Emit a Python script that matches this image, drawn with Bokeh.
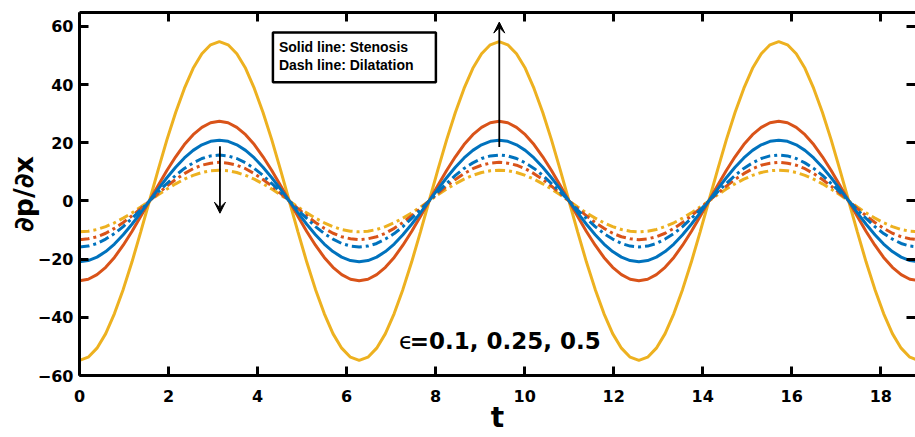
from bokeh.plotting import figure
from bokeh.models import Range1d, LinearAxis, FixedTicker, Arrow, VeeHead, Label, BoxAnnotation
from bokeh.embed import file_html
from bokeh.resources import INLINE

# ---- data ----
t = [0.0, 0.196, 0.393, 0.589, 0.785, 0.982, 1.178, 1.374, 1.571, 1.767, 1.963, 2.160, 2.356, 2.553, 2.749, 2.945,
     3.142, 3.338, 3.534, 3.731, 3.927, 4.123, 4.320, 4.516, 4.712, 4.909, 5.105, 5.301, 5.498, 5.694, 5.890, 6.087,
     6.283, 6.480, 6.676, 6.872, 7.069, 7.265, 7.461, 7.658, 7.854, 8.050, 8.247, 8.443, 8.639, 8.836, 9.032, 9.228,
     9.425, 9.621, 9.817, 10.014, 10.210, 10.407, 10.603, 10.799, 10.996, 11.192, 11.388, 11.585, 11.781, 11.977, 12.174, 12.370,
     12.566, 12.763, 12.959, 13.155, 13.352, 13.548, 13.744, 13.941, 14.137, 14.334, 14.530, 14.726, 14.923, 15.119, 15.315, 15.512,
     15.708, 15.904, 16.101, 16.297, 16.493, 16.690, 16.886, 17.082, 17.279, 17.475, 17.671, 17.868, 18.064, 18.261, 18.457, 18.653,
     18.850]

sten_yellow = [
    -54.8, -53.7, -50.6, -45.6, -38.7, -30.4, -21.0, -10.7, 0.0, 10.7, 21.0, 30.4, 38.7, 45.6, 50.6, 53.7,
    54.8, 53.7, 50.6, 45.6, 38.7, 30.4, 21.0, 10.7, 0.0, -10.7, -21.0, -30.4, -38.7, -45.6, -50.6, -53.7,
    -54.8, -53.7, -50.6, -45.6, -38.7, -30.4, -21.0, -10.7, 0.0, 10.7, 21.0, 30.4, 38.7, 45.6, 50.6, 53.7,
    54.8, 53.7, 50.6, 45.6, 38.7, 30.4, 21.0, 10.7, 0.0, -10.7, -21.0, -30.4, -38.7, -45.6, -50.6, -53.7,
    -54.8, -53.7, -50.6, -45.6, -38.7, -30.4, -21.0, -10.7, 0.0, 10.7, 21.0, 30.4, 38.7, 45.6, 50.6, 53.7,
    54.8, 53.7, 50.6, 45.6, 38.7, 30.4, 21.0, 10.7, 0.0, -10.7, -21.0, -30.4, -38.7, -45.6, -50.6, -53.7,
    -54.8]
sten_orange = [
    -27.4, -26.9, -25.3, -22.8, -19.4, -15.2, -10.5, -5.3, 0.0, 5.3, 10.5, 15.2, 19.4, 22.8, 25.3, 26.9,
    27.4, 26.9, 25.3, 22.8, 19.4, 15.2, 10.5, 5.3, 0.0, -5.3, -10.5, -15.2, -19.4, -22.8, -25.3, -26.9,
    -27.4, -26.9, -25.3, -22.8, -19.4, -15.2, -10.5, -5.3, 0.0, 5.3, 10.5, 15.2, 19.4, 22.8, 25.3, 26.9,
    27.4, 26.9, 25.3, 22.8, 19.4, 15.2, 10.5, 5.3, 0.0, -5.3, -10.5, -15.2, -19.4, -22.8, -25.3, -26.9,
    -27.4, -26.9, -25.3, -22.8, -19.4, -15.2, -10.5, -5.3, 0.0, 5.3, 10.5, 15.2, 19.4, 22.8, 25.3, 26.9,
    27.4, 26.9, 25.3, 22.8, 19.4, 15.2, 10.5, 5.3, 0.0, -5.3, -10.5, -15.2, -19.4, -22.8, -25.3, -26.9,
    -27.4]
sten_blue = [
    -20.9, -20.5, -19.3, -17.4, -14.8, -11.6, -8.0, -4.1, 0.0, 4.1, 8.0, 11.6, 14.8, 17.4, 19.3, 20.5,
    20.9, 20.5, 19.3, 17.4, 14.8, 11.6, 8.0, 4.1, 0.0, -4.1, -8.0, -11.6, -14.8, -17.4, -19.3, -20.5,
    -20.9, -20.5, -19.3, -17.4, -14.8, -11.6, -8.0, -4.1, 0.0, 4.1, 8.0, 11.6, 14.8, 17.4, 19.3, 20.5,
    20.9, 20.5, 19.3, 17.4, 14.8, 11.6, 8.0, 4.1, 0.0, -4.1, -8.0, -11.6, -14.8, -17.4, -19.3, -20.5,
    -20.9, -20.5, -19.3, -17.4, -14.8, -11.6, -8.0, -4.1, 0.0, 4.1, 8.0, 11.6, 14.8, 17.4, 19.3, 20.5,
    20.9, 20.5, 19.3, 17.4, 14.8, 11.6, 8.0, 4.1, 0.0, -4.1, -8.0, -11.6, -14.8, -17.4, -19.3, -20.5,
    -20.9]
dil_blue = [
    -15.8, -15.5, -14.6, -13.1, -11.2, -8.8, -6.0, -3.1, 0.0, 3.1, 6.0, 8.8, 11.2, 13.1, 14.6, 15.5,
    15.8, 15.5, 14.6, 13.1, 11.2, 8.8, 6.0, 3.1, 0.0, -3.1, -6.0, -8.8, -11.2, -13.1, -14.6, -15.5,
    -15.8, -15.5, -14.6, -13.1, -11.2, -8.8, -6.0, -3.1, 0.0, 3.1, 6.0, 8.8, 11.2, 13.1, 14.6, 15.5,
    15.8, 15.5, 14.6, 13.1, 11.2, 8.8, 6.0, 3.1, 0.0, -3.1, -6.0, -8.8, -11.2, -13.1, -14.6, -15.5,
    -15.8, -15.5, -14.6, -13.1, -11.2, -8.8, -6.0, -3.1, 0.0, 3.1, 6.0, 8.8, 11.2, 13.1, 14.6, 15.5,
    15.8, 15.5, 14.6, 13.1, 11.2, 8.8, 6.0, 3.1, 0.0, -3.1, -6.0, -8.8, -11.2, -13.1, -14.6, -15.5,
    -15.8]
dil_orange = [
    -13.3, -13.0, -12.3, -11.1, -9.4, -7.4, -5.1, -2.6, 0.0, 2.6, 5.1, 7.4, 9.4, 11.1, 12.3, 13.0,
    13.3, 13.0, 12.3, 11.1, 9.4, 7.4, 5.1, 2.6, 0.0, -2.6, -5.1, -7.4, -9.4, -11.1, -12.3, -13.0,
    -13.3, -13.0, -12.3, -11.1, -9.4, -7.4, -5.1, -2.6, 0.0, 2.6, 5.1, 7.4, 9.4, 11.1, 12.3, 13.0,
    13.3, 13.0, 12.3, 11.1, 9.4, 7.4, 5.1, 2.6, 0.0, -2.6, -5.1, -7.4, -9.4, -11.1, -12.3, -13.0,
    -13.3, -13.0, -12.3, -11.1, -9.4, -7.4, -5.1, -2.6, 0.0, 2.6, 5.1, 7.4, 9.4, 11.1, 12.3, 13.0,
    13.3, 13.0, 12.3, 11.1, 9.4, 7.4, 5.1, 2.6, 0.0, -2.6, -5.1, -7.4, -9.4, -11.1, -12.3, -13.0,
    -13.3]
dil_yellow = [
    -10.6, -10.4, -9.8, -8.8, -7.5, -5.9, -4.1, -2.1, 0.0, 2.1, 4.1, 5.9, 7.5, 8.8, 9.8, 10.4,
    10.6, 10.4, 9.8, 8.8, 7.5, 5.9, 4.1, 2.1, 0.0, -2.1, -4.1, -5.9, -7.5, -8.8, -9.8, -10.4,
    -10.6, -10.4, -9.8, -8.8, -7.5, -5.9, -4.1, -2.1, 0.0, 2.1, 4.1, 5.9, 7.5, 8.8, 9.8, 10.4,
    10.6, 10.4, 9.8, 8.8, 7.5, 5.9, 4.1, 2.1, 0.0, -2.1, -4.1, -5.9, -7.5, -8.8, -9.8, -10.4,
    -10.6, -10.4, -9.8, -8.8, -7.5, -5.9, -4.1, -2.1, 0.0, 2.1, 4.1, 5.9, 7.5, 8.8, 9.8, 10.4,
    10.6, 10.4, 9.8, 8.8, 7.5, 5.9, 4.1, 2.1, 0.0, -2.1, -4.1, -5.9, -7.5, -8.8, -9.8, -10.4,
    -10.6]

x_ticks = [0, 2, 4, 6, 8, 10, 12, 14, 16, 18]
y_ticks = [-60, -40, -20, 0, 20, 40, 60]

BLUE = "#0072BD"
ORANGE = "#D95319"
YELLOW = "#EDB120"

FONT = "DejaVu Sans"

p = figure(width=915, height=437, output_backend="svg", toolbar_location=None,
           x_range=Range1d(0, 18.78), y_range=Range1d(-60, 64.8),
           x_axis_location=None, y_axis_location=None,
           min_border_left=79, min_border_right=0, min_border_top=12, min_border_bottom=62)
p.outline_line_color = None
p.grid.visible = False
p.background_fill_color = "white"
p.border_fill_color = "white"


def style_axis(ax, ticks, show_labels):
    ax.axis_line_width = 3
    ax.axis_line_color = "black"
    ax.major_tick_in = 9
    ax.major_tick_out = 0
    ax.major_tick_line_width = 3
    ax.minor_tick_line_color = None
    ax.major_label_text_font = FONT
    ax.major_label_text_font_style = "bold"
    ax.major_label_text_font_size = "16px"
    ax.major_label_text_color = "black"
    ax.axis_label_text_font = FONT
    ax.axis_label_text_font_style = "bold"
    ax.axis_label_text_color = "black"
    if not show_labels:
        ax.major_label_overrides = {v: "" for v in ticks}
        ax.major_label_standoff = 0


xb = LinearAxis(ticker=FixedTicker(ticks=x_ticks), axis_label="t")
style_axis(xb, x_ticks, True)
xb.major_label_standoff = 14
xb.axis_label_text_font_size = "28px"
xb.axis_label_standoff = -4
p.add_layout(xb, "below")

yl = LinearAxis(ticker=FixedTicker(ticks=y_ticks), axis_label="∂p/∂x")
style_axis(yl, y_ticks, True)
yl.major_label_standoff = 6
yl.axis_label_text_font_size = "27px"
yl.axis_label_standoff = -4
p.add_layout(yl, "left")

xt = LinearAxis(ticker=FixedTicker(ticks=x_ticks))
style_axis(xt, x_ticks, False)
p.add_layout(xt, "above")

yr = LinearAxis(ticker=FixedTicker(ticks=y_ticks))
style_axis(yr, y_ticks, False)
yr.axis_line_alpha = 0
p.add_layout(yr, "right")

LW = 3
DASH = "10 4 3 4"
p.line(t, dil_yellow, line_color=YELLOW, line_width=LW, line_dash=DASH)
p.line(t, dil_orange, line_color=ORANGE, line_width=LW, line_dash=DASH)
p.line(t, dil_blue, line_color=BLUE, line_width=LW, line_dash=DASH)
p.line(t, sten_yellow, line_color=YELLOW, line_width=LW)
p.line(t, sten_orange, line_color=ORANGE, line_width=LW)
p.line(t, sten_blue, line_color=BLUE, line_width=LW)

# arrows
p.add_layout(Arrow(x_start=3.155, y_start=18.8, x_end=3.155, y_end=-4.2,
                   line_width=1.8, line_color="black",
                   end=VeeHead(size=11, line_color="black", fill_color="black", line_width=1)))
p.add_layout(Arrow(x_start=9.43, y_start=18.6, x_end=9.43, y_end=61.5,
                   line_width=1.8, line_color="black",
                   end=VeeHead(size=11, line_color="black", fill_color="black", line_width=1)))

# legend-like box
p.add_layout(BoxAnnotation(left=4.345, right=8.006, top=57.9, bottom=40.8,
                           fill_color="white", fill_alpha=1.0,
                           line_color="black", line_width=2.5, line_alpha=1.0))
for txt, yy in [("Solid line: Stenosis", 52.9), ("Dash line: Dilatation", 46.6)]:
    p.add_layout(Label(x=4.48, y=yy, text=txt, text_font="Liberation Sans",
                       text_font_style="bold", text_font_size="14px",
                       text_baseline="middle", text_align="left", text_color="black"))

# epsilon annotation
p.add_layout(Label(x=7.175, y=-48.3, text="ϵ", text_font=FONT, text_font_size="23px",
                   text_baseline="alphabetic", text_align="left", text_color="black"))
p.add_layout(Label(x=7.42, y=-48.3, text="=0.1, 0.25, 0.5", text_font=FONT,
                   text_font_style="bold", text_font_size="23px",
                   text_baseline="alphabetic", text_align="left", text_color="black"))

open("out.html", "w").write(file_html(p, INLINE))
